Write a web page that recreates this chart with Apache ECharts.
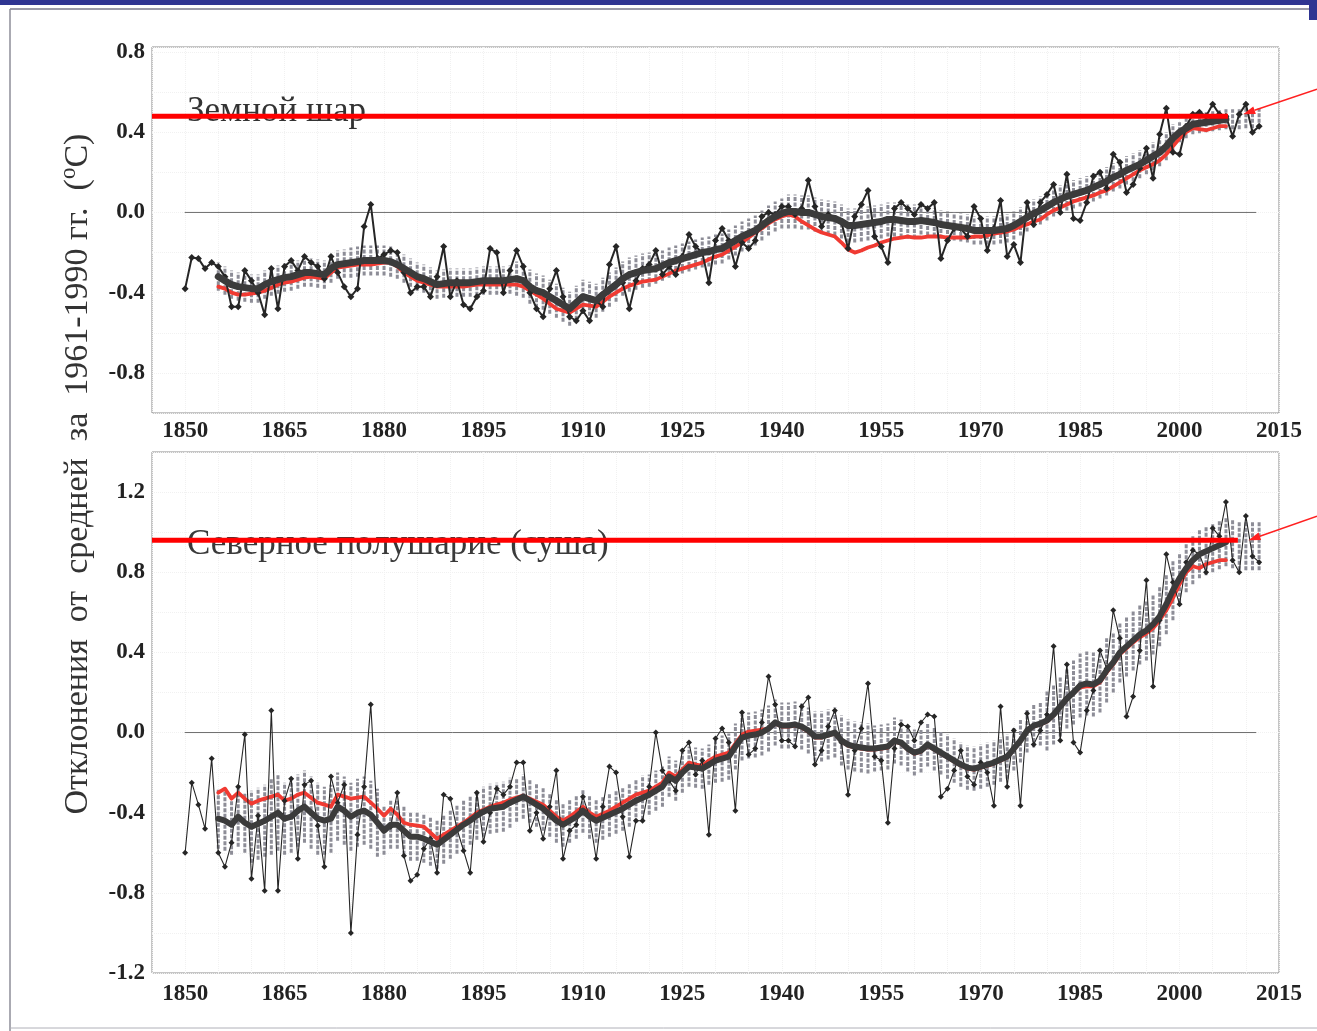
<!DOCTYPE html>
<html>
<head>
<meta charset="utf-8">
<script src="https://cdn.jsdelivr.net/npm/echarts@6/dist/echarts.min.js"></script>
<style>
  html, body { margin: 0; padding: 0; background: #ffffff; }
  #chart { width: 1317px; height: 1031px; }
</style>
</head>
<body>
<div id="chart"></div>
<script>
// ---- Years ----
const firstYear = 1850;      // annual series start
const lastYear = 2012;       // annual series end
const smoothStart = 1855;    // smoothed curves and bands start
const smoothEnd = 2007;      // smoothed curves end

// ---- Tick labels ----
const xTickLabels = [1850, 1865, 1880, 1895, 1910, 1925, 1940, 1955, 1970, 1985, 2000, 2015];
const yTickLabelsTop = [-0.8, -0.4, 0.0, 0.4, 0.8];
const yTickLabelsBottom = [-1.2, -0.8, -0.4, 0.0, 0.4, 0.8, 1.2];

// ---- Global (Земной шар), annual anomalies 1850–2012 ----
const globalAnnual = [
  -0.38,-0.225,-0.23,-0.28,-0.25,-0.27,-0.32,-0.47,-0.47,-0.29,
  -0.34,-0.40,-0.51,-0.28,-0.48,-0.27,-0.24,-0.29,-0.22,-0.25,
  -0.27,-0.33,-0.22,-0.30,-0.37,-0.42,-0.38,-0.07,0.04,-0.23,
  -0.21,-0.19,-0.20,-0.30,-0.40,-0.37,-0.37,-0.42,-0.32,-0.17,
  -0.42,-0.34,-0.46,-0.48,-0.42,-0.39,-0.18,-0.20,-0.40,-0.29,
  -0.19,-0.27,-0.40,-0.48,-0.52,-0.38,-0.29,-0.42,-0.52,-0.54,
  -0.49,-0.54,-0.44,-0.47,-0.26,-0.17,-0.35,-0.48,-0.34,-0.28,
  -0.26,-0.19,-0.31,-0.27,-0.31,-0.22,-0.11,-0.17,-0.20,-0.35,
  -0.14,-0.08,-0.14,-0.27,-0.15,-0.18,-0.14,-0.02,0.00,-0.01,
  0.03,0.03,-0.01,0.02,0.16,0.03,-0.07,-0.01,-0.03,-0.05,
  -0.18,-0.02,0.04,0.11,-0.12,-0.17,-0.25,0.02,0.05,0.02,
  -0.01,0.04,0.02,0.05,-0.23,-0.14,-0.08,-0.08,-0.12,0.03,
  -0.03,-0.19,-0.08,0.06,-0.22,-0.16,-0.25,0.05,-0.06,0.05,
  0.09,0.14,0.00,0.19,-0.03,-0.04,0.05,0.18,0.20,0.12,
  0.29,0.25,0.10,0.14,0.22,0.32,0.17,0.39,0.52,0.30,
  0.29,0.43,0.49,0.50,0.48,0.54,0.49,0.48,0.38,0.49,
  0.54,0.40,0.43
];
// smoothed curve (dark), 1855–2007
const globalSmooth = [
  -0.32,-0.34,-0.36,-0.37,-0.375,-0.38,-0.38,-0.36,-0.345,-0.335,
  -0.325,-0.32,-0.31,-0.30,-0.30,-0.305,-0.31,-0.28,-0.26,-0.255,
  -0.25,-0.245,-0.24,-0.24,-0.24,-0.24,-0.245,-0.26,-0.28,-0.30,
  -0.32,-0.33,-0.345,-0.36,-0.355,-0.35,-0.35,-0.35,-0.35,-0.345,
  -0.34,-0.34,-0.34,-0.34,-0.335,-0.33,-0.34,-0.37,-0.39,-0.40,
  -0.42,-0.44,-0.46,-0.48,-0.45,-0.42,-0.43,-0.44,-0.41,-0.385,
  -0.36,-0.33,-0.31,-0.30,-0.29,-0.285,-0.28,-0.265,-0.25,-0.24,
  -0.23,-0.22,-0.21,-0.20,-0.195,-0.185,-0.18,-0.16,-0.14,-0.12,
  -0.105,-0.09,-0.065,-0.04,-0.02,-0.005,0.005,0.005,0.0,0.0,
  -0.01,-0.02,-0.025,-0.03,-0.045,-0.065,-0.065,-0.06,-0.055,-0.05,
  -0.045,-0.035,-0.035,-0.04,-0.045,-0.045,-0.04,-0.045,-0.05,-0.06,
  -0.065,-0.07,-0.075,-0.08,-0.09,-0.09,-0.09,-0.09,-0.085,-0.08,
  -0.065,-0.045,-0.025,-0.005,0.01,0.03,0.05,0.065,0.08,0.09,
  0.10,0.11,0.125,0.14,0.155,0.175,0.19,0.21,0.225,0.24,
  0.26,0.28,0.30,0.33,0.37,0.40,0.42,0.44,0.445,0.45,
  0.455,0.46,0.465
];
// smoothed curve (red), 1855–2007
const globalRed = [
  -0.37,-0.38,-0.40,-0.41,-0.41,-0.405,-0.40,-0.39,-0.375,-0.36,
  -0.35,-0.345,-0.335,-0.325,-0.32,-0.325,-0.33,-0.30,-0.275,-0.27,
  -0.265,-0.26,-0.26,-0.26,-0.255,-0.25,-0.25,-0.27,-0.30,-0.32,
  -0.34,-0.35,-0.36,-0.37,-0.37,-0.37,-0.37,-0.37,-0.365,-0.36,
  -0.36,-0.36,-0.36,-0.36,-0.36,-0.36,-0.37,-0.39,-0.41,-0.43,
  -0.455,-0.48,-0.49,-0.50,-0.48,-0.46,-0.465,-0.47,-0.445,-0.42,
  -0.40,-0.38,-0.365,-0.355,-0.345,-0.34,-0.335,-0.32,-0.305,-0.29,
  -0.28,-0.27,-0.26,-0.25,-0.235,-0.22,-0.21,-0.19,-0.17,-0.15,
  -0.125,-0.10,-0.08,-0.055,-0.035,-0.02,-0.01,-0.02,-0.045,-0.065,
  -0.085,-0.10,-0.11,-0.12,-0.15,-0.185,-0.20,-0.19,-0.175,-0.165,
  -0.15,-0.14,-0.13,-0.125,-0.12,-0.125,-0.125,-0.12,-0.12,-0.12,
  -0.125,-0.125,-0.125,-0.125,-0.12,-0.12,-0.115,-0.105,-0.10,-0.095,
  -0.085,-0.07,-0.06,-0.045,-0.035,-0.01,0.01,0.025,0.04,0.055,
  0.065,0.075,0.085,0.10,0.11,0.13,0.15,0.17,0.19,0.21,
  0.225,0.24,0.26,0.29,0.33,0.37,0.40,0.42,0.415,0.41,
  0.42,0.43,0.43
];
// uncertainty band half-width, 1855–2012
const globalBandHalf = [
  0.07,0.07,0.07,0.07,0.07,0.07,0.07,0.07,0.07,0.07,
  0.07,0.07,0.07,0.07,0.07,0.07,0.07,0.07,0.07,0.07,
  0.075,0.075,0.075,0.075,0.075,0.075,0.075,0.07,0.07,0.07,
  0.07,0.07,0.07,0.07,0.07,0.07,0.07,0.07,0.07,0.07,
  0.07,0.07,0.07,0.07,0.07,
  0.085,0.085,0.085,0.085,0.085,0.085,0.085,0.085,0.085,0.085,
  0.085,0.085,0.085,0.085,0.085,0.085,0.085,0.085,0.085,0.085,0.085,
  0.075,0.075,0.075,0.075,0.075,0.075,0.075,0.075,0.075,0.075,
  0.075,0.075,0.075,0.075,0.075,0.075,0.075,0.075,0.075,0.075,
  0.085,0.085,0.085,0.085,0.085,0.085,0.085,0.085,0.085,0.085,
  0.085,0.085,0.085,0.085,0.085,0.085,0.085,0.085,0.085,0.085,
  0.07,0.07,0.07,0.07,0.07,0.07,0.07,0.07,0.07,0.07,
  0.07,0.07,0.07,0.07,0.07,0.07,0.07,0.07,0.07,0.07,
  0.07,0.07,0.07,0.07,0.07,0.07,0.07,0.07,0.07,0.07,
  0.07,0.07,0.07,0.07,0.07,0.07,0.07,0.07,0.07,
  0.05,0.05,0.05,0.05,0.05,0.05,0.05,0.05,0.05,0.05,
  0.05,0.05,0.05
];
// band centres after the smoothed curve ends, 2008–2012
const globalBandTail = [0.465, 0.465, 0.47, 0.47, 0.47];

// ---- Northern Hemisphere land (Северное полушарие, суша) ----
const nhAnnual = [
  -0.60,-0.25,-0.36,-0.48,-0.13,-0.60,-0.67,-0.55,-0.27,-0.01,
  -0.73,-0.415,-0.79,0.11,-0.79,-0.34,-0.23,-0.63,-0.26,-0.24,
  -0.465,-0.67,-0.22,-0.35,-0.26,-1.00,-0.51,-0.27,0.14,-0.45,
  -0.48,-0.47,-0.30,-0.615,-0.74,-0.71,-0.58,-0.53,-0.70,-0.31,
  -0.33,-0.48,-0.59,-0.70,-0.30,-0.545,-0.40,-0.28,-0.31,-0.27,
  -0.15,-0.15,-0.49,-0.40,-0.53,-0.37,-0.19,-0.63,-0.49,-0.46,
  -0.32,-0.42,-0.63,-0.37,-0.17,-0.20,-0.42,-0.62,-0.44,-0.44,
  -0.27,0.00,-0.19,-0.24,-0.29,-0.09,-0.05,-0.21,-0.14,-0.51,
  -0.03,0.02,-0.05,-0.39,0.10,-0.11,-0.08,0.05,0.28,0.14,
  -0.04,-0.04,-0.07,0.13,0.175,-0.16,-0.09,0.03,0.11,-0.05,
  -0.31,-0.09,0.02,0.245,-0.12,-0.14,-0.45,-0.08,0.04,0.03,
  -0.04,0.05,0.09,0.08,-0.32,-0.28,-0.19,-0.09,-0.22,-0.26,
  -0.15,-0.20,-0.365,0.13,-0.27,0.01,-0.365,0.095,-0.06,0.01,
  0.09,0.43,-0.04,0.34,-0.05,-0.10,0.11,0.21,0.41,0.32,
  0.61,0.47,0.08,0.18,0.41,0.76,0.23,0.56,0.89,0.75,
  0.64,0.85,0.91,0.89,0.80,1.02,0.98,1.15,0.86,0.80,
  1.08,0.88,0.85
];
const nhSmooth = [
  -0.43,-0.44,-0.46,-0.42,-0.45,-0.47,-0.455,-0.44,-0.42,-0.40,
  -0.43,-0.42,-0.39,-0.37,-0.40,-0.43,-0.44,-0.43,-0.37,-0.39,
  -0.42,-0.40,-0.39,-0.41,-0.45,-0.49,-0.46,-0.46,-0.49,-0.52,
  -0.52,-0.53,-0.545,-0.56,-0.535,-0.51,-0.485,-0.46,-0.44,-0.415,
  -0.395,-0.38,-0.375,-0.37,-0.35,-0.335,-0.32,-0.34,-0.36,-0.38,
  -0.41,-0.44,-0.46,-0.44,-0.42,-0.39,-0.42,-0.44,-0.425,-0.41,
  -0.395,-0.38,-0.36,-0.34,-0.325,-0.31,-0.29,-0.27,-0.22,-0.24,
  -0.20,-0.17,-0.175,-0.18,-0.16,-0.14,-0.13,-0.12,-0.07,-0.025,
  -0.015,-0.01,0.0,0.02,0.05,0.035,0.035,0.04,0.03,0.01,
  -0.02,-0.02,-0.01,0.0,-0.04,-0.06,-0.07,-0.075,-0.08,-0.08,
  -0.075,-0.07,-0.04,-0.05,-0.08,-0.10,-0.09,-0.06,-0.08,-0.10,
  -0.12,-0.14,-0.16,-0.175,-0.18,-0.17,-0.16,-0.15,-0.135,-0.12,
  -0.08,-0.04,0.01,0.035,0.045,0.06,0.09,0.13,0.17,0.20,
  0.235,0.245,0.24,0.26,0.31,0.35,0.40,0.43,0.46,0.49,
  0.51,0.54,0.58,0.64,0.71,0.77,0.82,0.86,0.89,0.905,
  0.92,0.935,0.95
];
const nhRed = [
  -0.30,-0.28,-0.33,-0.30,-0.33,-0.355,-0.34,-0.33,-0.32,-0.31,
  -0.34,-0.33,-0.31,-0.30,-0.325,-0.35,-0.36,-0.37,-0.31,-0.32,
  -0.33,-0.325,-0.32,-0.35,-0.38,-0.415,-0.38,-0.41,-0.45,-0.46,
  -0.465,-0.47,-0.50,-0.53,-0.51,-0.49,-0.47,-0.45,-0.425,-0.40,
  -0.385,-0.37,-0.36,-0.35,-0.335,-0.325,-0.315,-0.33,-0.345,-0.36,
  -0.39,-0.42,-0.44,-0.42,-0.395,-0.37,-0.40,-0.42,-0.405,-0.39,
  -0.37,-0.35,-0.33,-0.31,-0.30,-0.29,-0.27,-0.25,-0.20,-0.22,
  -0.185,-0.15,-0.16,-0.165,-0.14,-0.12,-0.11,-0.10,-0.055,-0.01,
  0.005,0.01,0.015,0.02,0.045,0.03,0.03,0.035,0.025,0.005,
  -0.025,-0.025,-0.015,-0.005,-0.045,-0.065,-0.075,-0.08,-0.085,-0.085,
  -0.08,-0.075,-0.045,-0.055,-0.085,-0.105,-0.095,-0.065,-0.085,-0.105,
  -0.125,-0.145,-0.165,-0.18,-0.185,-0.175,-0.165,-0.155,-0.14,-0.125,
  -0.085,-0.045,0.005,0.03,0.04,0.055,0.085,0.125,0.165,0.195,
  0.225,0.23,0.23,0.25,0.30,0.34,0.39,0.42,0.45,0.475,
  0.495,0.52,0.56,0.61,0.67,0.74,0.80,0.83,0.82,0.84,
  0.85,0.86,0.86
];
const nhBandHalf = [
  0.15,0.15,0.15,0.15,0.15,
  0.18,0.18,0.18,0.19,0.19,0.18,0.18,0.18,0.18,0.18,
  0.18,0.17,0.17,0.17,0.17,0.17,0.17,0.17,0.17,0.17,
  0.12,0.12,0.12,0.12,0.12,0.12,0.12,0.12,0.12,0.12,
  0.12,0.12,0.12,0.12,0.12,0.125,0.125,0.125,0.125,0.125,
  0.11,0.11,0.11,0.11,0.11,0.11,0.11,0.11,0.11,0.11,
  0.11,0.11,0.11,0.11,0.11,0.11,0.11,0.11,0.11,0.11,
  0.10,0.10,0.10,0.10,0.10,0.10,0.10,0.10,0.10,0.10,0.11,
  0.115,0.115,0.115,0.115,0.115,0.115,0.115,0.115,0.115,0.115,
  0.115,0.115,0.115,0.115,0.125,0.125,0.125,0.125,0.125,0.125,
  0.125,0.125,0.125,0.115,0.115,0.115,0.115,0.115,0.115,0.115,
  0.11,0.11,0.11,0.11,0.11,0.11,0.11,0.11,0.11,0.11,
  0.11,0.11,0.11,0.11,0.11,0.11,0.11,0.11,0.11,
  0.15,0.15,0.15,0.15,0.16,0.16,0.16,0.16,0.16,0.16,
  0.15,0.15,0.15,0.15,0.15,0.15,0.15,0.15,0.15,0.15,
  0.12,0.12,0.12,0.12,0.12,0.12,0.12,0.12,0.12,0.12,
  0.12,0.12,0.12
];
const nhBandTail = [0.94, 0.93, 0.93, 0.93, 0.93];

// ---- Highlight levels (red bars) and their horizontal extent ----
const levelGlobal = 0.48;
const levelNH = 0.96;
const levelGlobalEnd = 2007.3;
const levelNHEnd = 2008.8;

// ---------------------------------------------------------------
const years = [];
for (let y = firstYear; y <= lastYear; y++) years.push(y);

function pairs(startYear, values) {
  return values.map((v, i) => [startYear + i, v]);
}
function bandRows(smooth, tail, half) {
  const rows = [];
  half.forEach((h, i) => {
    const mid = i < smooth.length ? smooth[i] : tail[i - smooth.length];
    rows.push([smoothStart + i, mid - h, mid + h]);
  });
  return rows;
}
const near = (list, v) => list.some(t => Math.abs(t - v) < 1e-6);

const serif = 'Liberation Serif, Times New Roman, serif';
const labelColor = '#222222';

function xAxisCfg(gridIndex, margin) {
  return {
    type: 'value', gridIndex, min: 1845, max: 2015, interval: 5,
    axisLine: { show: false }, axisTick: { show: false },
    splitLine: { show: true, lineStyle: { color: '#f1f1f1', type: 'dotted', width: 1 } },
    axisLabel: {
      margin, fontFamily: serif, fontWeight: 'bold', fontSize: 23, color: labelColor,
      formatter: v => near(xTickLabels, v) ? String(Math.round(v)) : ''
    }
  };
}
function yAxisCfg(gridIndex, min, max, labels) {
  return {
    type: 'value', gridIndex, min, max, interval: 0.2,
    axisLine: { show: false }, axisTick: { show: false },
    splitLine: { show: true, lineStyle: { color: '#f1f1f1', type: 'dotted', width: 1 } },
    axisLabel: {
      margin: 7, fontFamily: serif, fontWeight: 'bold', fontSize: 23, color: labelColor,
      formatter: v => near(labels, v) ? (Math.abs(v) < 1e-9 ? '0.0' : v.toFixed(1)) : '',
      showMaxLabel: false
    }
  };
}

function bandSeries(idx, rows, width) {
  return {
    type: 'custom', xAxisIndex: idx, yAxisIndex: idx, z: 2, silent: true,
    data: rows, encode: { x: 0, y: [1, 2] },
    renderItem(params, api) {
      const a = api.coord([api.value(0), api.value(1)]);
      const b = api.coord([api.value(0), api.value(2)]);
      return {
        type: 'line',
        shape: { x1: a[0], y1: a[1], x2: b[0], y2: b[1] },
        style: { stroke: '#8d8d97', lineWidth: width, lineDash: [4, 1.5] }
      };
    }
  };
}
function lineSeries(idx, data, color, width, z, extra) {
  return Object.assign({
    type: 'line', xAxisIndex: idx, yAxisIndex: idx, data, z,
    showSymbol: false, symbol: 'none', silent: true,
    lineStyle: { color, width, cap: 'round', join: 'round' }
  }, extra || {});
}
function annualSeries(idx, values, width, size) {
  return {
    type: 'line', xAxisIndex: idx, yAxisIndex: idx, z: 4, silent: true,
    data: years.map((y, i) => [y, values[i]]),
    symbol: 'diamond', symbolSize: size, showSymbol: true,
    itemStyle: { color: '#262626' },
    lineStyle: { color: '#262626', width }
  };
}

const chart = echarts.init(document.getElementById('chart'), null, { renderer: 'canvas' });

const option = {
  animation: false,
  backgroundColor: '#ffffff',
  grid: [
    { left: 152, top: 47, width: 1127, height: 366, show: true, borderColor: '#8c8c8c', borderWidth: 1, backgroundColor: 'transparent' },
    { left: 152, top: 452, width: 1127, height: 521, show: true, borderColor: '#8c8c8c', borderWidth: 1, backgroundColor: 'transparent' }
  ],
  xAxis: [xAxisCfg(0, 7), xAxisCfg(1, 10)],
  yAxis: [
    yAxisCfg(0, -1.0, 0.825, yTickLabelsTop),
    yAxisCfg(1, -1.2, 1.4, yTickLabelsBottom)
  ],
  series: [
    // zero reference lines
    lineSeries(0, [[1850, 0], [2011.5, 0]], '#6e6e6e', 1, 1),
    lineSeries(1, [[1850, 0], [2011.5, 0]], '#6e6e6e', 1, 1),
    // uncertainty bands
    bandSeries(0, bandRows(globalSmooth, globalBandTail, globalBandHalf), 3),
    bandSeries(1, bandRows(nhSmooth, nhBandTail, nhBandHalf), 3),
    // red smoothed curves
    lineSeries(0, pairs(smoothStart, globalRed), '#f03a32', 3.8, 3),
    lineSeries(1, pairs(smoothStart, nhRed), '#f03a32', 3.8, 3),
    // annual values
    annualSeries(0, globalAnnual, 2, 7),
    annualSeries(1, nhAnnual, 1.1, 6),
    // dark smoothed curves
    lineSeries(0, pairs(smoothStart, globalSmooth), '#3b3b3b', 7, 5),
    lineSeries(1, pairs(smoothStart, nhSmooth), '#3b3b3b', 6, 5),
    // red highlight levels
    lineSeries(0, [[1845, levelGlobal], [levelGlobalEnd, levelGlobal]], '#ff0000', 5, 8, { lineStyle: { color: '#ff0000', width: 5, cap: 'butt' } }),
    lineSeries(1, [[1845, levelNH], [levelNHEnd, levelNH]], '#ff0000', 5, 8, { lineStyle: { color: '#ff0000', width: 5, cap: 'butt' } })
  ]
};
chart.setOption(option);

// ---- Titles, axis caption, frame and pointer arrows ----
function arrow(tip, start) {
  const dx = tip[0] - start[0], dy = tip[1] - start[1];
  const len = Math.hypot(dx, dy), ux = dx / len, uy = dy / len;
  const hl = 12, hw = 4;
  const bx = tip[0] - ux * hl, by = tip[1] - uy * hl;
  return [
    { type: 'line', z: 20, shape: { x1: start[0], y1: start[1], x2: bx, y2: by }, style: { stroke: '#ff2020', lineWidth: 1.5 } },
    { type: 'polygon', z: 20, shape: { points: [tip, [bx - uy * hw, by + ux * hw], [bx + uy * hw, by - ux * hw]] }, style: { fill: '#ff2020' } }
  ];
}
const tipTop = chart.convertToPixel({ gridIndex: 0 }, [2009.6, 0.49]);
const tipBottom = chart.convertToPixel({ gridIndex: 1 }, [2010.4, 0.96]);

chart.setOption({
  graphic: [
    // page frame
    { type: 'rect', z: 30, shape: { x: 0, y: 0, width: 1317, height: 5 }, style: { fill: '#2f3592' } },
    { type: 'rect', z: 30, shape: { x: 1309, y: 0, width: 8, height: 20 }, style: { fill: '#2f3592' } },
    { type: 'line', z: 30, shape: { x1: 10, y1: 9, x2: 1309, y2: 9 }, style: { stroke: '#9b9ba8', lineWidth: 2 } },
    { type: 'line', z: 30, shape: { x1: 10, y1: 9, x2: 10, y2: 1031 }, style: { stroke: '#8e8e98', lineWidth: 1.5 } },
    { type: 'line', z: 30, shape: { x1: 10, y1: 1028, x2: 1317, y2: 1028 }, style: { stroke: '#b0b0b8', lineWidth: 1 } },
    // panel titles
    { type: 'text', z: 6, x: 187, y: 112, style: { text: 'Земной шар', fontFamily: serif, fontSize: 35, fill: '#333333', verticalAlign: 'middle' } },
    { type: 'text', z: 6, x: 187, y: 545, style: { text: 'Северное полушарие (суша)', fontFamily: serif, fontSize: 35, fill: '#3a3a3a', verticalAlign: 'middle' } },
    // shared y-axis caption
    {
      type: 'text', z: 6, x: 78, y: 474, rotation: Math.PI / 2,
      style: {
        text: '{a|Отклонения  от  средней  за  1961-1990 гг.  (}{s|o}{a|C)}',
        align: 'center', verticalAlign: 'middle',
        rich: {
          a: { fontFamily: serif, fontSize: 34, fill: '#333333', lineHeight: 42 },
          s: { fontFamily: serif, fontSize: 23, fill: '#333333', verticalAlign: 'top', lineHeight: 42 }
        }
      }
    },
    ...arrow(tipTop, [1317, tipTop[1] - 25]),
    ...arrow(tipBottom, [1317, tipBottom[1] - 24])
  ]
});
</script>
</body>
</html>
